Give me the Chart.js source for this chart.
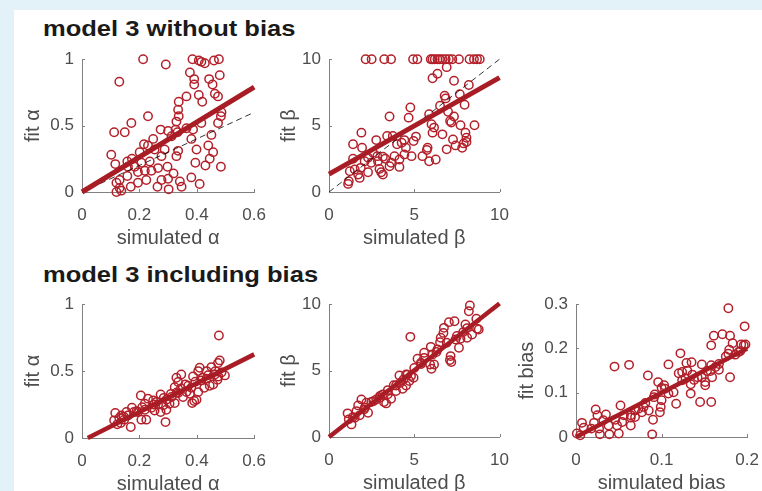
<!DOCTYPE html>
<html>
<head>
<meta charset="utf-8">
<script src="https://cdn.jsdelivr.net/npm/chart.js@4.4.1/dist/chart.umd.min.js"></script>
<style>
html, body { margin: 0; padding: 0; overflow: hidden; }
body { width: 762px; height: 491px; background: #e3f1f8; position: relative; font-family: "Liberation Sans", Arial, sans-serif; }
#sheet { position: absolute; left: 14px; top: 10px; right: 0; bottom: 0; background: #fff; }
.title { position: absolute; left: 43px; font-weight: bold; font-size: 22px; line-height: 22px; color: #1a1a1a;
  transform: scaleX(1.16); transform-origin: 0 0; white-space: nowrap; }
canvas { position: absolute; }
</style>
</head>
<body>
<div id="sheet"></div>
<div class="title" style="top:18px">model 3 without bias</div>
<div class="title" style="top:264px">model 3 including bias</div>
<canvas id="c1"></canvas>
<canvas id="c2"></canvas>
<canvas id="c3"></canvas>
<canvas id="c4"></canvas>
<canvas id="c5"></canvas>
<script>
// --- data ---
// model 3 without bias: alpha
const simAlpha1 = [0.213,0.292,0.385,0.407,0.416,0.428,0.46,0.477,0.13,0.376,
  0.391,0.391,0.443,0.455,0.48,0.463,0.474,0.364,0.337,0.407,
  0.419,0.23,0.335,0.337,0.329,0.486,0.484,0.474,0.172,0.112,
  0.149,0.274,0.3,0.326,0.364,0.387,0.416,0.333,0.451,0.381,
  0.312,0.248,0.216,0.23,0.253,0.288,0.335,0.399,0.44,0.457,
  0.445,0.102,0.116,0.158,0.174,0.201,0.207,0.236,0.277,0.265,
  0.298,0.329,0.395,0.43,0.484,0.184,0.195,0.224,0.158,0.131,
  0.12,0.131,0.12,0.137,0.17,0.195,0.263,0.277,0.3,0.302,
  0.319,0.341,0.347,0.381,0.41,0.242,0.219,0.16];
const fitAlpha1 = [1.0,0.96,1.0,0.99,0.98,0.97,0.99,1.0,0.83,0.9,
  0.85,0.81,0.85,0.81,0.88,0.74,0.72,0.72,0.68,0.73,
  0.68,0.57,0.62,0.57,0.53,0.6,0.57,0.52,0.52,0.45,
  0.45,0.47,0.46,0.47,0.48,0.47,0.52,0.45,0.43,0.4,
  0.42,0.4,0.36,0.35,0.32,0.32,0.31,0.32,0.35,0.3,
  0.25,0.28,0.21,0.23,0.25,0.3,0.22,0.23,0.27,0.18,
  0.19,0.27,0.22,0.2,0.19,0.19,0.15,0.09,0.12,0.09,
  0.07,0.03,0.0,0.01,0.04,0.07,0.04,0.09,0.1,0.02,
  0.14,0.08,0.04,0.11,0.06,0.16,0.16,0.19];
const regX1 = [0, 0.6], regY1 = [0, 0.79];

// model 3 without bias: beta
const simBeta1 = [2.15,2.5,3.24,3.64,4.93,5.18,5.97,6.07,6.2,6.36,
  6.5,6.65,6.84,7.03,7.23,7.62,8.24,8.5,8.68,8.84,
  6.9,6.36,6.07,7.33,8.2,6.78,6.84,7.67,7.95,4.77,
  3.55,4.67,5.87,6.51,6.98,7.33,7.1,7.17,7.71,8.53,
  6.01,6.16,6.07,6.65,7.27,8.0,8.06,8.06,7.9,7.42,
  7.81,6.9,5.78,5.74,5.48,5.87,6.26,4.84,5.1,4.42,
  4.26,4.96,4.51,4.42,3.99,4.13,3.84,3.74,3.41,2.77,
  1.9,1.41,1.94,1.41,2.29,2.83,3.16,3.3,2.48,2.87,
  3.55,4.13,2.96,3.06,3.16,2.29,1.86,1.71,1.8,1.22,
  1.16,1.12,2.58,2.09,1.51,3.64];
const fitBeta1 = [10,10,10,10,10,10,10,10,10,10,
  10,10,10,10,10,10,10,10,10,10,
  9.4,8.9,8.56,8.38,8.06,7.25,7.05,7.37,6.57,6.36,
  5.68,5.6,5.86,6.49,6.04,5.68,5.35,5.23,5.03,5.03,
  5.1,4.85,4.47,4.34,3.96,4.47,4.09,3.76,3.66,3.51,
  3.33,3.21,3.33,3.16,2.7,2.32,2.45,2.7,4.17,3.91,
  3.71,3.84,3.33,2.83,3.59,2.45,2.7,4.22,4.22,3.91,
  4.47,3.59,3.33,2.5,2.58,2.7,2.65,2.5,2.2,2.32,
  1.94,1.89,1.74,1.49,1.31,1.49,1.82,1.31,1.06,1.57,
  0.81,0.61,2.95,2.32,1.69,2.2];
const regX2 = [0, 10], regY2 = [1.35, 8.61];

// model 3 including bias: alpha
const simAlpha2 = [0.477,0.48,0.474,0.451,0.41,0.405,0.434,0.486,0.387,0.346,
  0.329,0.472,0.457,0.445,0.426,0.405,0.381,0.37,0.391,0.384,
  0.399,0.335,0.323,0.335,0.312,0.305,0.323,0.294,0.274,0.274,
  0.291,0.248,0.23,0.205,0.265,0.242,0.219,0.195,0.174,0.181,
  0.16,0.116,0.112,0.123,0.147,0.17,0.207,0.224,0.137,0.135,
  0.155,0.283,0.352,0.364,0.376,0.416,0.498,0.463,0.434,0.219,
  0.253,0.294,0.13,0.145,0.19,0.21,0.26,0.285,0.31,0.345,
  0.36,0.395,0.42,0.44,0.465,0.475,0.33,0.25];
const fitAlpha2 = [0.766,0.58,0.56,0.53,0.525,0.5,0.5,0.49,0.46,0.475,
  0.45,0.435,0.4,0.39,0.375,0.343,0.375,0.39,0.276,0.261,
  0.286,0.418,0.38,0.336,0.306,0.256,0.261,0.286,0.326,0.194,
  0.119,0.281,0.294,0.318,0.251,0.226,0.211,0.194,0.226,0.194,
  0.169,0.187,0.132,0.102,0.137,0.082,0.137,0.137,0.169,0.112,
  0.194,0.244,0.306,0.343,0.331,0.43,0.468,0.475,0.443,0.256,
  0.206,0.211,0.15,0.16,0.2,0.23,0.27,0.3,0.33,0.37,
  0.4,0.42,0.45,0.47,0.5,0.46,0.34,0.25];
const regX3 = [0.02, 0.6], regY3 = [0, 0.625];

// model 3 including bias: beta
const simBeta2 = [8.26,8.2,8.64,8.68,8.78,8.0,7.36,7.03,6.74,4.77,
  7.87,8.1,7.62,7.13,7.17,7.09,6.51,6.36,5.97,6.07,
  6.01,5.93,6.16,5.58,5.19,5.39,4.52,4.13,4.38,4.96,
  4.52,4.32,3.93,3.93,3.45,3.16,2.97,3.22,3.64,2.48,
  2.19,1.9,1.71,2.05,1.61,1.09,1.16,1.32,1.51,1.8,
  2.29,3.45,4.71,6.71,7.42,8.39,5.58,6.55,7.71,2.77,
  3.35,4.81,4.19,1.4,2.6,3.0,3.8,5.0,5.4,6.3,
  6.9,7.5,8.1,2.1,4.6];
const fitBeta2 = [9.9,9.47,8.9,8.15,8.1,8.47,8.72,8.65,8.22,7.54,
  7.9,7.47,6.72,6.09,5.64,5.79,7.14,6.59,6.79,6.22,
  5.14,5.46,5.46,5.96,5.89,5.59,4.71,4.64,4.34,4.46,
  3.88,3.63,3.88,3.46,3.53,3.21,2.96,2.63,2.88,2.63,
  2.58,2.83,2.38,2.08,1.95,1.78,1.33,0.95,1.45,1.63,
  1.83,3.21,4.21,7.84,7.34,7.72,6.34,7.47,7.4,2.83,
  2.53,4.59,4.09,1.5,2.7,3.1,3.9,5.2,5.5,6.4,
  7.1,7.6,8.2,2.2,4.7];
const regX4 = [0, 10], regY4 = [0, 10.05];

// model 3 including bias: bias
const simBias = [0.178,0.197,0.161,0.171,0.18,0.183,0.158,0.193,0.198,0.179,
  0.178,0.192,0.122,0.045,0.062,0.108,0.129,0.135,0.147,0.158,
  0.163,0.153,0.167,0.12,0.124,0.13,0.136,0.142,0.134,0.134,
  0.145,0.158,0.18,0.084,0.096,0.103,0.1,0.092,0.1,0.099,
  0.098,0.09,0.089,0.117,0.114,0.108,0.124,0.151,0.151,0.052,
  0.069,0.064,0.054,0.064,0.05,0.039,0.028,0.023,0.025,0.035,
  0.021,0.007,0.009,0.001,0.005,0.027,0.046,0.038,0.048,0.073,
  0.077,0.064,0.079,0.085,0.091,0.104,0.128,0.138,0.147,0.157,
  0.159,0.167,0.175,0.186,0.19,0.196,0.018,0.032,0.056,0.069,
  0.081];
const fitBias = [0.291,0.25,0.229,0.232,0.229,0.212,0.207,0.209,0.209,0.197,
  0.188,0.194,0.189,0.159,0.163,0.164,0.167,0.169,0.164,0.162,
  0.158,0.149,0.152,0.144,0.147,0.15,0.141,0.135,0.119,0.098,
  0.079,0.079,0.135,0.139,0.124,0.117,0.111,0.096,0.083,0.068,
  0.056,0.039,0.006,0.075,0.101,0.098,0.128,0.124,0.117,0.071,
  0.06,0.049,0.034,0.026,0.008,0.006,0.006,0.062,0.049,0.051,
  0.032,0.032,0.021,0.008,0.004,0.019,0.039,0.026,0.026,0.064,
  0.056,0.044,0.068,0.06,0.09,0.109,0.132,0.129,0.135,0.149,
  0.135,0.165,0.182,0.186,0.192,0.207,0.019,0.038,0.049,0.045,
  0.077];
const regX5 = [0, 0.2], regY5 = [0, 0.2];

// tick labels
const alphaTicksX = [0, 0.2, 0.4, 0.6];
const alphaTicksY = [0, 0.5, 1];
const betaTicks = [0, 5, 10];
const biasTicksX = [0, 0.1, 0.2];
const biasTicksY = [0, 0.1, 0.2, 0.3];

// --- look ---
const FONT = '"Liberation Sans", Arial, sans-serif';
const TXT = '#4d4d4d';
const AXIS = '#808080';
const DOT = '#b3202a';
const LINE = '#a81d25';
const PAD = 4, X_H = 59;

function zip(xs, ys) {
  return xs.map((x, i) => ({x: x, y: ys[i]}));
}

function tickFmt(v) {
  return String(Math.round(v * 100) / 100);
}

const inwardTicks = {
  id: 'inwardTicks',
  beforeDatasetsDraw(chart) {
    const ctx = chart.ctx;
    const a = chart.chartArea;
    const xs = chart.scales.x, ys = chart.scales.y;
    ctx.save();
    ctx.strokeStyle = AXIS;
    ctx.lineWidth = 1;
    ctx.beginPath();
    xs.ticks.forEach((t, i) => {
      const px = Math.round(xs.getPixelForTick(i)) + 0.5;
      ctx.moveTo(px, a.bottom);
      ctx.lineTo(px, a.bottom - 3);
    });
    ys.ticks.forEach((t, i) => {
      const py = Math.round(ys.getPixelForTick(i)) + 0.5;
      ctx.moveTo(a.left, py);
      ctx.lineTo(a.left + 3, py);
    });
    ctx.stroke();
    ctx.restore();
  }
};

const panels = [
  {id: 'c1', L: 82, R: 254, T: 59, B: 192, yW: 62, xMin: 0, xMax: 0.6, yMin: 0, yMax: 1,
   xTicks: alphaTicksX, yTicks: alphaTicksY, xTitle: 'simulated α', yTitle: 'fit α',
   xs: simAlpha1, ys: fitAlpha1, rx: regX1, ry: regY1, diag: true, lw: 5},
  {id: 'c2', L: 329, R: 500, T: 59, B: 192, yW: 53, xMin: 0, xMax: 10, yMin: 0, yMax: 10,
   xTicks: betaTicks, yTicks: betaTicks, xTitle: 'simulated β', yTitle: 'fit β',
   xs: simBeta1, ys: fitBeta1, rx: regX2, ry: regY2, diag: true, lw: 5},
  {id: 'c3', L: 82, R: 254, T: 304, B: 438, yW: 62, xMin: 0, xMax: 0.6, yMin: 0, yMax: 1,
   xTicks: alphaTicksX, yTicks: alphaTicksY, xTitle: 'simulated α', yTitle: 'fit α',
   xs: simAlpha2, ys: fitAlpha2, rx: regX3, ry: regY3, diag: false, lw: 4.5},
  {id: 'c4', L: 329, R: 500, T: 304, B: 437, yW: 53, xMin: 0, xMax: 10, yMin: 0, yMax: 10,
   xTicks: betaTicks, yTicks: betaTicks, xTitle: 'simulated β', yTitle: 'fit β',
   xs: simBeta2, ys: fitBeta2, rx: regX4, ry: regY4, diag: false, lw: 4.5},
  {id: 'c5', L: 576, R: 747, T: 304, B: 437, yW: 62, xMin: 0, xMax: 0.2, yMin: 0, yMax: 0.3,
   xTicks: biasTicksX, yTicks: biasTicksY, xTitle: 'simulated bias', yTitle: 'fit bias',
   xs: simBias, ys: fitBias, rx: regX5, ry: regY5, diag: false, lw: 4.5}
];

function chartConfig(p) {
  const datasets = [
    {data: zip(p.rx, p.ry), showLine: true, borderColor: LINE, borderWidth: p.lw,
     pointRadius: 0, clip: false, borderCapStyle: 'butt'}
  ];
  if (p.diag) {
    datasets.push({data: zip([p.xMin, p.xMax], [p.xMin, p.xMax]), showLine: true,
      borderColor: '#000', borderWidth: 0.8, borderDash: [6, 4], pointRadius: 0, clip: false});
  }
  datasets.push({data: zip(p.xs, p.ys), showLine: false, pointStyle: 'circle', pointRadius: 4.2,
    pointBorderWidth: 1.5, pointBorderColor: DOT, pointBackgroundColor: 'rgba(0,0,0,0)', clip: false});

  return {
    type: 'scatter',
    data: {datasets: datasets},
    options: {
      responsive: false,
      maintainAspectRatio: false,
      animation: false,
      devicePixelRatio: 1,
      layout: {padding: PAD},
      plugins: {legend: {display: false}, tooltip: {enabled: false}},
      scales: {
        x: {
          type: 'linear', min: p.xMin, max: p.xMax,
          afterBuildTicks: s => { s.ticks = p.xTicks.map(v => ({value: v})); },
          afterFit: s => { s.height = X_H; },
          grid: {display: false, drawTicks: false},
          border: {display: true, color: AXIS, width: 1},
          ticks: {color: TXT, font: {family: FONT, size: 17}, padding: 13, maxRotation: 0, autoSkip: false, callback: tickFmt},
          title: {display: true, text: p.xTitle, color: TXT, font: {family: FONT, size: 20}, padding: {top: 0, bottom: 1}}
        },
        y: {
          type: 'linear', min: p.yMin, max: p.yMax,
          afterBuildTicks: s => { s.ticks = p.yTicks.map(v => ({value: v})); },
          afterFit: s => { s.width = p.yW; },
          grid: {display: false, drawTicks: false},
          border: {display: true, color: AXIS, width: 1},
          ticks: {color: TXT, font: {family: FONT, size: 17}, padding: 8, autoSkip: false, callback: tickFmt},
          title: {display: true, text: p.yTitle, color: TXT, font: {family: FONT, size: 20}, padding: {top: 1, bottom: 0}}
        }
      }
    },
    plugins: [inwardTicks]
  };
}

function makePanel(p) {
  const cv = document.getElementById(p.id);
  cv.width = p.yW + (p.R - p.L) + 40;
  cv.height = (p.B - p.T) + X_H + 30;
  let chart = new Chart(cv, chartConfig(p));
  // grow the canvas until the plot area has the wanted size
  for (let k = 0; k < 2; k++) {
    const a = chart.chartArea;
    const w = cv.width + (p.R - p.L) - Math.round(a.right - a.left);
    const h = cv.height + (p.B - p.T) - Math.round(a.bottom - a.top);
    chart.destroy();
    cv.width = w;
    cv.height = h;
    chart = new Chart(cv, chartConfig(p));
  }
  const a = chart.chartArea;
  cv.style.left = Math.round(p.L - a.left) + 'px';
  cv.style.top = Math.round(p.T - a.top) + 'px';
}

panels.forEach(makePanel);
</script>
</body>
</html>
